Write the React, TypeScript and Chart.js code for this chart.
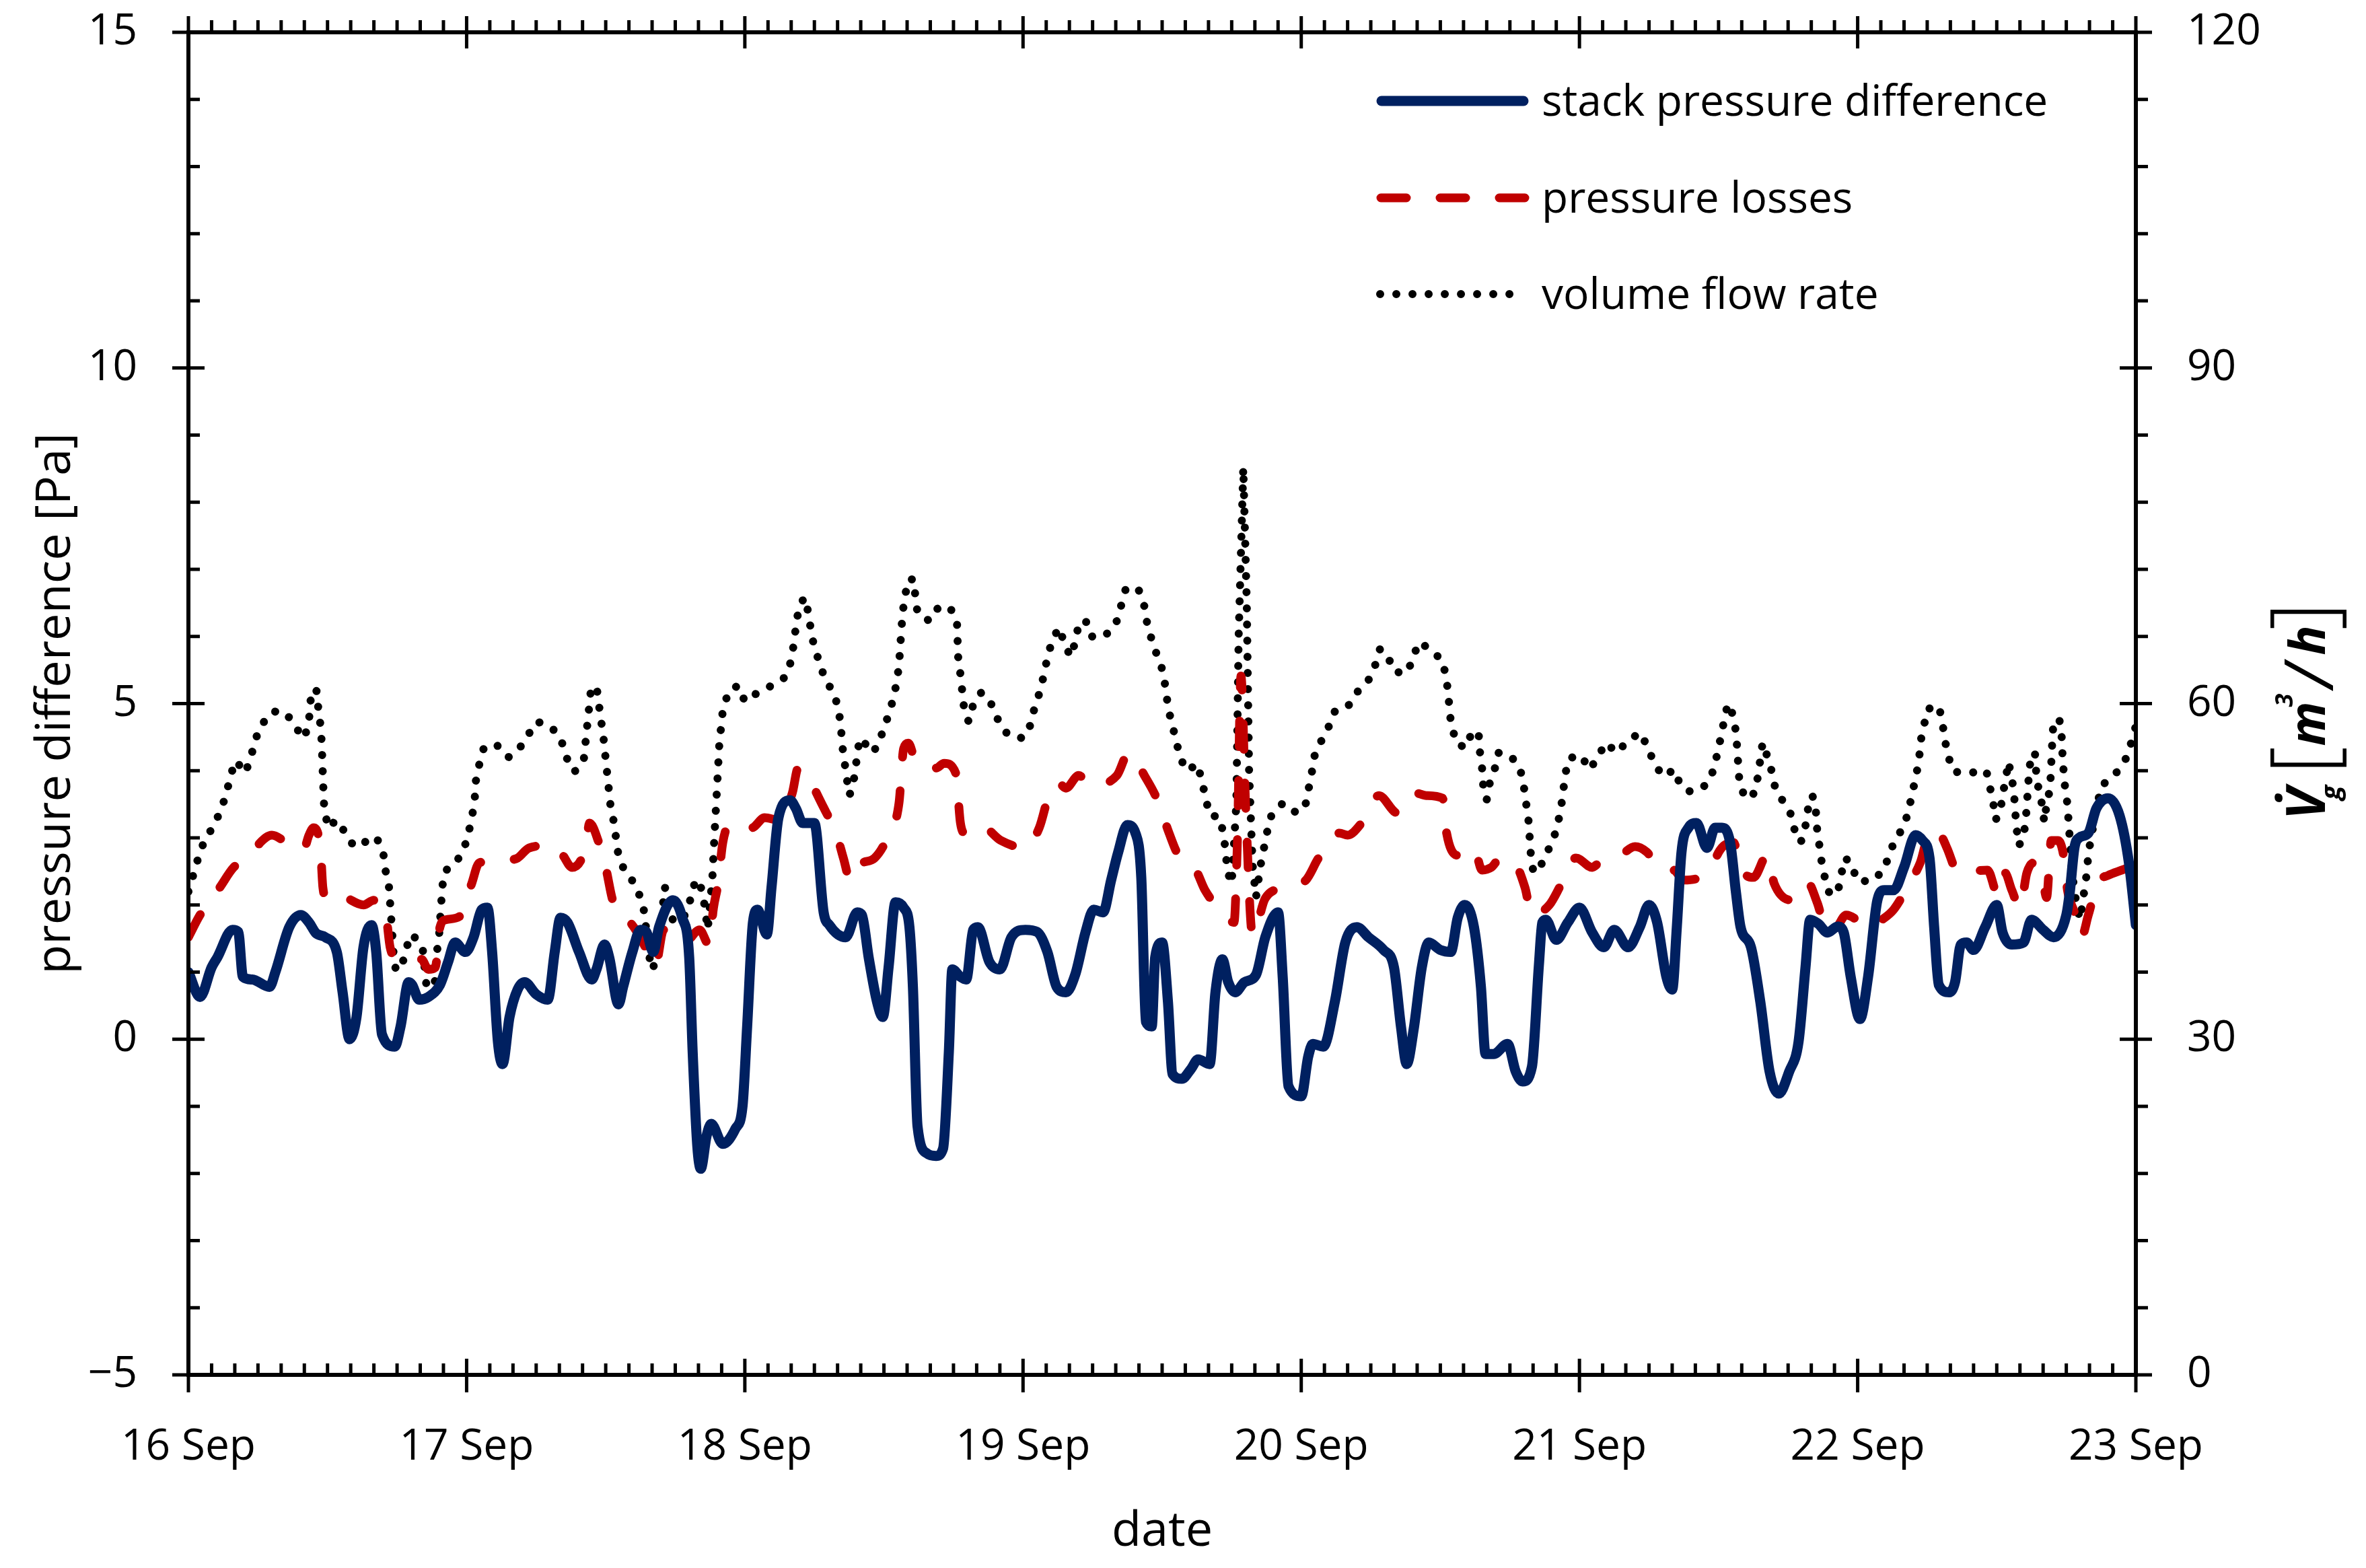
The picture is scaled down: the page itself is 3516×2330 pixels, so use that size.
import React, { useEffect, useRef } from 'react';
import { Chart, registerables } from 'chart.js';

Chart.register(...registerables);

// ---------- data ----------
const dayLabels = ['16 Sep', '17 Sep', '18 Sep', '19 Sep', '20 Sep', '21 Sep', '22 Sep', '23 Sep'];
const seriesNames = ['stack pressure difference', 'pressure losses', 'volume flow rate'];
const xTitle = 'date';
const yTitle = 'pressure difference [Pa]';
const y2TitleParts = { symbol: 'V\u0307', sub: 'g', open: '[', unit: 'm', power: '3', slash: '/', unit2: 'h', close: ']' };

// [hours since 16 Sep 00:00, Pa]
const stackPressure: [number, number][] = [
  [0,1.0],[1,0.63],[2,1.07],[2.5,1.22],[3.8,1.63],[4.3,1.6],[4.7,0.93],[5.5,0.89],[7,0.78],[7.5,1.0],[8.7,1.67],[9.7,1.85],[10.4,1.74],[11,1.58],[11.8,1.52],[12.8,1.3],[13.3,0.7],[13.9,0.0],[14.5,0.33],[15.1,1.37],[15.8,1.7],[16.2,1.3],[16.7,0.07],[17.8,-0.11],[18.3,0.19],[19,0.85],[19.3,0.81],[19.9,0.59],[20.7,0.63],[21.7,0.81],[22.4,1.15],[23,1.44],[23.9,1.3],
  [24.6,1.52],[25.3,1.93],[25.8,1.96],[26.2,1.3],[26.7,-0.04],[27.1,-0.37],[27.7,0.33],[28.4,0.74],[29,0.85],[30,0.67],[31,0.59],[31.6,1.3],[32.1,1.81],[32.7,1.74],[33.7,1.3],[34.8,0.89],[35.2,1.04],[35.9,1.41],[36.3,1.22],[37.1,0.52],[37.5,0.78],[38.3,1.3],[39,1.63],[39.5,1.6],[40.1,1.3],[40.6,1.67],[41.8,2.07],[42.6,1.81],[43.2,1.22],[43.5,-0.19],[43.9,-1.59],[44.2,-1.93],[44.7,-1.44],[45.1,-1.26],[46.1,-1.56],[47.2,-1.33],[47.8,-1.0],
  [48.2,0.19],[48.7,1.74],[49.1,1.93],[49.9,1.56],[50.3,2.26],[50.9,3.3],[51.9,3.56],[52.4,3.44],[53,3.22],[54,3.22],[54.8,1.89],[55.3,1.7],[56.7,1.52],[57.7,1.89],[58.1,1.85],[58.7,1.2],[59.4,0.56],[59.9,0.33],[60.4,1.07],[61,2.04],[61.7,1.96],[62.2,1.67],[62.5,0.78],[62.9,-1.3],[63.7,-1.7],[64.5,-1.74],[65.1,-1.63],[65.6,-0.19],[65.9,1.04],[66.6,0.93],[67.1,0.89],[67.7,1.63],[68.1,1.67],[69.1,1.15],[70,1.04],[71,1.52],
  [72.2,1.63],[73.2,1.6],[74.1,1.3],[74.9,0.78],[75.7,0.7],[76.5,0.96],[77.4,1.6],[78.1,1.93],[78.9,1.89],[79.6,2.37],[80.2,2.78],[81,3.19],[81.7,3.07],[82.2,2.41],[82.6,0.26],[83.1,0.19],[83.4,1.22],[84,1.44],[84.5,0.56],[84.9,-0.52],[85.7,-0.59],[86.5,-0.44],[87.1,-0.3],[88.1,-0.37],[88.6,0.7],[89.2,1.19],[89.7,0.85],[90.3,0.7],[91.1,0.85],[92.1,0.96],[92.9,1.52],[94,1.89],[94.4,0.93],[94.9,-0.7],
  [96,-0.85],[96.6,-0.26],[97,-0.07],[97.9,-0.11],[98.9,0.56],[99.8,1.44],[100.8,1.67],[101.8,1.52],[103.1,1.33],[104,1.07],[104.6,0.19],[105.1,-0.37],[105.7,0.15],[106.4,1.07],[107,1.44],[108,1.33],[108.9,1.3],[109.5,1.81],[110.1,2.0],[110.9,1.67],[111.5,0.78],[111.9,-0.22],[112.6,-0.22],[113.8,-0.07],[114.5,-0.48],[115.1,-0.63],[115.9,-0.41],[116.5,1.1],[116.8,1.74],[117.1,1.78],[118,1.48],[119,1.74],
  [120,1.96],[121.1,1.59],[122.1,1.37],[123,1.63],[124.2,1.37],[125.2,1.67],[126,2.0],[126.7,1.74],[127.5,0.93],[128,0.74],[128.4,1.67],[128.8,2.78],[129.4,3.15],[130.1,3.22],[131,2.85],[131.7,3.15],[132.3,3.15],[133,2.93],[133.5,2.19],[133.9,1.67],[134.8,1.37],[135.6,0.56],[136.4,-0.48],[137.2,-0.81],[138.1,-0.48],[138.9,-0.04],[139.5,1.07],[139.9,1.78],[140.6,1.72],[141.4,1.59],[142.3,1.68],[142.8,1.59],[143.4,0.93],
  [144.2,0.3],[144.9,0.93],[145.7,2.07],[146.3,2.22],[147.1,2.22],[148,2.56],[149,3.04],[149.6,2.96],[150.2,2.7],[150.6,1.67],[151,0.81],[151.9,0.7],[152.4,0.85],[152.9,1.41],[153.4,1.44],[154,1.33],[155,1.67],[156,2.0],[156.5,1.59],[157.3,1.41],[158.3,1.44],[159,1.78],[160,1.63],[160.9,1.52],[162,1.85],[162.3,2.19],[162.7,2.85],[163.1,3.0],[163.9,3.07],[164.6,3.44],[165.6,3.59],[166.6,3.33],[167.4,2.63],[168,1.7]
];

// [hours, Pa]
const pressureLosses: [number, number][] = [
  [0,1.52],[1,1.85],[2.7,2.26],[3.9,2.56],[5.4,2.74],[6.2,2.93],[7.2,3.04],[8.3,2.95],[9.3,2.85],[9.9,2.81],[10.4,3.04],[10.8,3.15],[11.4,2.81],[11.6,2.26],[12,2.07],[13.1,2.13],[15.1,2.0],[16,2.07],[17,1.89],[17.4,1.37],[18,1.19],[18.8,1.19],[20.1,1.19],[20.7,1.04],[21.3,1.07],[21.7,1.67],[22.2,1.78],[23.4,1.83],
  [24.4,2.3],[25.1,2.63],[27.5,2.67],[28.4,2.7],[29.4,2.85],[31.5,2.89],[32.3,2.74],[33.1,2.56],[34.3,2.89],[34.6,3.22],[35.4,2.93],[36,2.56],[36.6,2.07],[37.4,1.81],[38.1,1.74],[39.3,1.41],[40.1,1.11],[40.3,1.11],[41,1.63],[42,1.48],[42.8,1.44],[44.1,1.63],[44.9,1.41],[45.3,1.96],[45.7,2.33],[46.1,2.93],[46.8,3.22],
  [48.6,3.15],[49.7,3.3],[51,3.26],[52.1,3.67],[52.6,4.04],[53.6,3.85],[54.6,3.52],[56,3.0],[56.5,2.7],[57.1,2.37],[57.9,2.6],[59.2,2.7],[60.4,3.04],[61.3,3.52],[61.7,4.33],[62.1,4.41],[62.8,4.11],[64.5,4.04],[65.2,4.11],[66.2,3.96],[66.6,3.22],[67,3.07],[68.3,3.19],[70.1,2.96],
  [72.2,2.85],[73.4,3.15],[74.3,3.67],[75.1,3.81],[75.7,3.74],[76.8,3.93],[77.8,3.78],[80.1,3.93],[81.1,4.26],[82.6,3.89],[83.6,3.56],[84.6,3.07],[85.4,2.74],[86.9,2.52],[87.7,2.22],[89.4,1.85],[90.2,1.74],[90.5,3.0],[90.8,5.41],[91.2,3.5],[91.8,1.55],[92.9,2.1],[94.6,2.26],
  [96.4,2.37],[97.5,2.7],[99.3,3.07],[100,3.04],[101.2,3.22],[102.7,3.63],[104.3,3.37],[105.8,3.67],[106.8,3.63],[108.2,3.59],[108.5,3.11],[109.5,2.74],[110.9,2.85],[111.6,2.52],[112.4,2.56],[113.2,2.7],[114.4,2.63],[115.3,2.26],[115.9,1.85],[117.4,2.0],[118.4,2.3],[119.7,2.7],
  [121.1,2.56],[121.7,2.63],[123.4,2.72],[124.8,2.87],[125.8,2.79],[127.1,2.52],[128.1,2.52],[129,2.37],[131.2,2.52],[132.1,2.81],[132.5,2.89],[133.3,2.93],[133.9,2.56],[135,2.41],[136.2,2.74],[136.8,2.32],[138.5,2.07],[139.7,2.33],[140.5,2.04],[141.4,1.59],[142.2,1.67],[143,1.85],
  [145.1,1.67],[146.1,1.78],[147.1,1.93],[148.4,2.3],[149.4,2.63],[150.3,3.11],[151.3,3.0],[151.7,2.85],[152.7,2.48],[155.2,2.52],[156.1,2.15],[156.7,2.48],[157.3,2.22],[158,1.96],[158.6,2.48],[159.2,2.63],[160,2.33],[160.3,2.11],[160.7,2.96],[161.3,2.96],[161.8,2.7],[162.1,2.22],[162.7,1.89],[163.3,1.52],[163.9,1.85],[164.7,2.33],[165.6,2.44],[166.8,2.52],[168,2.6]
];

// [hours, m3/h]
const volumeFlow: [number, number][] = [
  [0,43.2],[0.9,46.4],[1.4,47.8],[2.2,49.1],[2.8,50.5],[3.3,52.0],[3.6,53.5],[4.1,54.9],[4.9,53.8],[5.4,55.2],[5.7,56.6],[6.3,58.1],[7.3,59.3],[8.4,59.2],[9.3,57.8],[10,56.9],[10.4,58.4],[10.5,60.0],[10.7,61.3],[11.1,61.1],[11.2,59.6],[11.4,58.0],[11.5,56.5],[11.6,53.5],[11.7,51.0],[11.8,50.5],[12,48.9],[12.8,49.6],[13.5,48.5],[14.3,47.2],[15.4,47.7],[16.2,48.1],[16.8,46.7],[17,45.1],[17.3,43.6],[17.5,40.7],[17.7,37.6],[17.9,36.1],[18.5,36.9],[18.8,38.2],[19.3,39.4],[20.2,38.2],[20.5,35.1],[20.7,33.8],[21.2,34.2],[21.4,37.6],[21.6,38.9],[21.9,43.6],[22.1,45.0],[23.1,45.8],[23.8,47.1],
  [24.2,48.6],[24.5,50.1],[24.7,51.5],[24.8,53.1],[25.1,54.6],[25.5,56.1],[26.6,56.3],[27.6,55.2],[28.5,55.9],[29.3,57.2],[30.1,58.4],[31.4,57.8],[32.2,56.6],[32.6,55.2],[33.3,53.9],[34.1,54.9],[34.4,58.0],[34.7,61.0],[35.2,61.6],[35.4,60.0],[35.8,57.0],[36.1,54.0],[36.4,51.0],[36.7,49.4],[37.1,46.4],[37.6,45.1],[38.5,43.9],[39.1,42.4],[39.4,41.0],[39.6,37.9],[40.1,36.2],[40.4,39.1],[40.8,40.7],[41.1,43.6],[41.8,40.6],[42.6,40.6],[43.2,42.0],[43.5,43.6],[44,44.3],[44.4,42.9],[44.8,39.8],[45.2,44.4],[45.4,48.6],[45.6,52.4],[45.8,56.4],[46.1,59.4],[46.6,61.1],[47.4,61.6],
  [48,60.2],[49,60.9],[50.3,61.6],[51.4,62.3],[52,63.8],[52.2,65.2],[52.4,66.8],[52.6,68.2],[53.1,69.5],[53.5,68.1],[53.7,66.5],[54,65.0],[54.5,63.5],[54.9,62.2],[55.7,60.9],[56.1,59.4],[56.3,57.8],[56.4,56.3],[56.6,54.8],[56.8,53.3],[57,51.8],[57.3,52.4],[57.5,53.9],[57.7,55.4],[57.9,56.9],[58.4,56.4],[58.9,55.6],[59.4,56.1],[59.9,57.5],[60.4,59.0],[60.8,60.4],[61.1,61.9],[61.3,63.4],[61.4,65.0],[61.5,66.5],[61.6,68.0],[61.8,69.5],[62.1,71.1],[62.6,71.1],[62.7,69.6],[62.9,68.1],[63.9,67.4],[64.7,68.6],[65.7,68.6],[66.3,67.3],[66.4,64.2],[66.6,62.6],[66.9,59.7],[67.3,58.4],[67.7,59.9],[68.4,61.0],[69.3,59.9],[69.9,58.4],[70.7,57.2],
  [72,56.9],[72.7,58.2],[73,59.7],[73.5,61.2],[73.8,62.6],[74.1,64.1],[74.5,65.6],[75.1,66.8],[75.6,65.3],[76.1,64.2],[76.6,65.8],[76.8,67.3],[77.5,67.3],[78,65.9],[79.4,66.3],[80.1,67.4],[80.5,68.9],[80.9,70.4],[82,70.1],[82.5,68.6],[82.7,67.2],[83.1,65.7],[83.6,64.2],[84.1,62.8],[84.3,61.3],[84.5,59.8],[84.8,58.3],[85.2,56.8],[85.5,55.3],[86.1,54.0],[87.1,54.6],[87.4,53.0],[87.8,51.6],[88,50.1],[89,49.8],[89.3,48.2],[89.5,46.7],[89.6,45.1],[90,43.9],[90.4,51.0],[90.6,66.0],[91,81.1],[91.3,69.0],[91.5,54.0],[91.8,45.6],[92.1,42.7],[92.5,45.6],[93.3,49.8],[94.4,51.1],[95.5,50.3],
  [96.3,50.6],[96.6,52.2],[96.9,53.7],[97.05,55.1],[97.7,56.6],[98.4,58.0],[98.9,59.3],[100,59.7],[100.8,61.0],[101.8,62.1],[102.4,63.5],[102.8,64.9],[103.5,64.1],[104.1,62.8],[105.2,62.8],[105.6,64.1],[106.2,65.5],[107.3,64.7],[108.2,63.8],[108.5,62.3],[108.7,60.8],[108.8,59.2],[109,57.8],[109.5,56.3],[110.3,56.1],[110.7,57.5],[111.3,57.4],[111.4,55.8],[111.6,54.2],[111.7,52.7],[112,51.4],[112.2,52.7],[112.7,54.2],[113,55.6],[114.1,55.3],[114.9,54.1],[115.2,52.6],[115.4,51.1],[115.6,49.6],[115.7,48.1],[115.8,46.6],[116,45.1],[116.4,44.9],[117,46.3],[117.7,47.7],[118.1,49.1],[118.4,50.6],[118.6,52.2],[118.8,53.8],[119.1,55.1],
  [120.1,55.4],[120.9,54.1],[121.6,55.3],[122.3,56.5],[123.2,55.6],[124.3,56.8],[125.3,57.4],[125.9,56.0],[126.5,54.6],[127.2,53.5],[128.2,54.1],[128.7,52.7],[129.6,52.1],[130.9,52.7],[131.6,54.1],[131.9,55.6],[132.2,57.0],[132.5,58.6],[132.8,60.0],[133.2,59.1],[133.5,57.5],[133.6,56.1],[133.7,54.5],[133.8,53.0],[134.3,51.5],[135.1,52.0],[135.4,53.5],[135.6,55.0],[135.8,56.5],[136.2,55.3],[136.6,53.9],[136.9,52.4],[137.6,51.2],[138.3,50.0],[138.6,48.5],[139.1,47.6],[139.5,49.1],[139.7,50.5],[140.1,51.8],[140.4,50.3],[140.5,48.8],[140.7,47.3],[140.9,45.8],[141.2,44.3],[141.6,42.9],[142.3,43.2],[142.6,44.8],[142.9,46.2],[143.5,45.7],[143.9,44.2],
  [145.1,44.1],[146.2,45.0],[146.7,46.4],[147.2,47.8],[148,49.0],[148.4,50.5],[148.7,51.9],[149,53.4],[149.3,54.9],[149.4,56.5],[149.7,57.9],[150,59.5],[151,59.8],[151.3,58.4],[151.5,56.9],[151.8,55.3],[152.3,53.9],[153.6,53.8],[155.1,54.0],[155.4,52.6],[155.7,51.1],[155.9,49.6],[156.3,50.3],[156.5,51.8],[156.8,53.4],[157,54.8],[157.3,53.4],[157.5,51.8],[157.6,50.3],[157.7,48.9],[157.9,47.3],[158.3,48.0],[158.5,49.6],[158.6,51.0],[158.7,52.6],[158.8,54.0],[159,55.6],[159.3,55.5],[159.4,53.9],[159.6,52.4],[159.9,51.0],[160.1,49.4],[160.3,51.0],[160.6,52.4],[160.7,54.6],[160.8,56.9],[160.9,58.4],[161.4,58.6],[161.6,57.0],[161.7,54.8],[161.9,52.4],[162.1,51.0],[162.2,49.4],[162.3,47.9],[162.4,46.4],[162.5,44.9],[162.7,43.3],[162.9,41.9],[163.2,40.7],[163.4,42.2],[163.6,43.6],[163.8,45.1],[163.9,46.7],[164.2,48.2],[164.4,49.8],[164.7,51.2],[165.1,52.7],[166.3,53.8],[167.1,55.0],[167.6,56.5],[168,58.0]
];

// ---------- styling ----------
const FONT = "'Open Sans', 'Noto Sans', sans-serif";
const CANVAS_W = 3500;
const CANVAS_H = 2314;
const toXY = (arr: [number, number][]) => arr.map(([x, y]) => ({ x, y }));

const framePlugin = {
  id: 'frameAndTicks',
  afterDatasetsDraw(chart: any) {
    const { ctx, chartArea } = chart;
    const { left, right, top, bottom } = chartArea;
    const xs = chart.scales.x, ys = chart.scales.y, y2 = chart.scales.y2;
    ctx.save();
    ctx.strokeStyle = '#000';
    ctx.lineCap = 'butt';
    ctx.setLineDash([]);
    const line = (a: number, b: number, c: number, d: number) => {
      ctx.beginPath(); ctx.moveTo(a, b); ctx.lineTo(c, d); ctx.stroke();
    };
    ctx.lineWidth = 5;
    for (let h = xs.min; h <= xs.max; h += 2) {
      const px = xs.getPixelForValue(h);
      if (h % 24 === 0) {
        line(px, bottom - 24, px, bottom + 26);
        line(px, top - 24, px, top + 24);
      } else {
        line(px, bottom - 17, px, bottom);
        line(px, top - 18, px, top);
      }
    }
    for (let v = ys.min; v <= ys.max; v += 1) {
      const py = ys.getPixelForValue(v);
      if (v % 5 === 0) line(left - 24, py, left + 24, py);
      else line(left, py, left + 17, py);
    }
    for (let v = y2.min; v <= y2.max; v += 6) {
      const py = y2.getPixelForValue(v);
      if (v % 30 === 0) line(right - 24, py, right + 24, py);
      else line(right, py, right + 18, py);
    }
    ctx.lineWidth = 6;
    ctx.strokeRect(left, top, right - left, bottom - top);
    ctx.restore();
  },
};

const legendPlugin = {
  id: 'insideLegend',
  afterDraw(chart: any) {
    const { ctx, chartArea } = chart;
    const { right, top } = chartArea;
    const rows = [102, 246, 389];
    ctx.save();
    chart.data.datasets.forEach((ds: any, i: number) => {
      const y = top + rows[i];
      ctx.strokeStyle = ds.borderColor;
      ctx.lineWidth = ds.borderWidth;
      ctx.lineCap = ds.borderCapStyle || 'butt';
      ctx.setLineDash(ds.borderDash || []);
      ctx.beginPath();
      if (i === 0) { ctx.moveTo(right - 1121, y); ctx.lineTo(right - 910, y); }
      else if (i === 1) { ctx.moveTo(right - 1122, y); ctx.lineTo(right - 900, y); }
      else { ctx.moveTo(right - 1123, y); ctx.lineTo(right - 912, y); }
      ctx.stroke();
      ctx.setLineDash([]);
      ctx.fillStyle = '#000';
      ctx.font = `64px ${FONT}`;
      ctx.textAlign = 'left';
      ctx.textBaseline = 'alphabetic';
      ctx.fillText(ds.label, right - 883, y + 22);
    });
    ctx.restore();
  },
};

const rightTitlePlugin = {
  id: 'rightTitle',
  afterDraw(chart: any) {
    const { ctx, chartArea } = chart;
    const p = y2TitleParts;
    const cx = chartArea.right + 281;
    const cy = (chartArea.top + chartArea.bottom) / 2 + 173;
    ctx.save();
    ctx.translate(cx, cy);
    ctx.rotate(-Math.PI / 2);
    ctx.fillStyle = '#000';
    ctx.textAlign = 'left';
    ctx.textBaseline = 'alphabetic';
    ctx.font = `italic bold 80px ${FONT}`;
    ctx.fillText(p.symbol, 0, 0);
    ctx.font = `italic bold 40px ${FONT}`;
    ctx.fillText(p.sub, 30, 22);
    ctx.font = `300 130px ${FONT}`;
    ctx.fillText(p.open, 68, 12);
    ctx.font = `italic bold 73px ${FONT}`;
    ctx.fillText(p.unit, 110, 0);
    ctx.font = `italic bold 36px ${FONT}`;
    ctx.fillText(p.power, 168, -48);
    ctx.font = `italic 100px ${FONT}`;
    ctx.fillText(p.slash, 196, 12);
    ctx.font = `italic bold 73px ${FONT}`;
    ctx.fillText(p.unit2, 245, 0);
    ctx.font = `300 130px ${FONT}`;
    ctx.fillText(p.close, 282, 12);
    ctx.restore();
  },
};

export default function App() {
  const ref = useRef<HTMLCanvasElement | null>(null);
  useEffect(() => {
    if (!ref.current) return;
    const tickFont = { family: FONT, size: 64 };
    const titleFont = { family: FONT, size: 72 };
    const chart = new Chart(ref.current, {
      type: 'line',
      data: {
        datasets: [
          {
            label: seriesNames[0],
            data: toXY(stackPressure),
            yAxisID: 'y',
            borderColor: '#002060',
            borderWidth: 15,
            borderCapStyle: 'round',
            borderJoinStyle: 'round',
            cubicInterpolationMode: 'monotone',
            pointRadius: 0,
            fill: false,
          },
          {
            label: seriesNames[1],
            data: toXY(pressureLosses),
            yAxisID: 'y',
            borderColor: '#C00000',
            borderWidth: 13,
            borderDash: [38, 50],
            borderCapStyle: 'round',
            borderJoinStyle: 'round',
            cubicInterpolationMode: 'monotone',
            pointRadius: 0,
            fill: false,
          },
          {
            label: seriesNames[2],
            data: toXY(volumeFlow),
            yAxisID: 'y2',
            borderColor: '#000000',
            borderWidth: 12,
            borderDash: [0.01, 24],
            borderCapStyle: 'round',
            borderJoinStyle: 'round',
            tension: 0,
            pointRadius: 0,
            fill: false,
          },
        ],
      } as any,
      options: {
        responsive: false,
        devicePixelRatio: 1,
        animation: false,
        events: [],
        layout: { padding: { top: 40, left: 0, right: 0, bottom: 0 } },
        plugins: { legend: { display: false }, tooltip: { enabled: false }, title: { display: false } },
        scales: {
          x: {
            type: 'linear',
            position: 'bottom',
            min: 0,
            max: 168,
            grid: { display: false, drawTicks: true, tickLength: 69 },
            border: { display: false },
            ticks: {
              stepSize: 24,
              autoSkip: false,
              maxRotation: 0,
              padding: 0,
              color: '#000',
              font: tickFont,
              callback: (v: any) => dayLabels[Math.round(Number(v) / 24)] ?? '',
            },
            title: { display: true, text: xTitle, color: '#000', font: titleFont, padding: { top: 0, bottom: 2 } },
            afterFit: (s: any) => { s.height = CANVAS_H - 2035; },
          },
          y: {
            type: 'linear',
            position: 'left',
            min: -5,
            max: 15,
            grid: { display: false, drawTicks: true, tickLength: 76 },
            border: { display: false },
            ticks: {
              stepSize: 5,
              padding: 0,
              color: '#000',
              font: tickFont,
              callback: (v: any) => (Number(v) < 0 ? '\u2212' + Math.abs(Number(v)) : String(v)),
            },
            title: { display: true, text: yTitle, color: '#000', font: titleFont, padding: { top: 32, bottom: 0 } },
            afterFit: (s: any) => { s.width = 272; },
          },
          y2: {
            type: 'linear',
            position: 'right',
            min: 0,
            max: 120,
            grid: { display: false, drawTicks: true, tickLength: 76 },
            border: { display: false },
            ticks: { stepSize: 30, padding: 0, color: '#000', font: tickFont },
            afterFit: (s: any) => { s.width = 334; },
          },
        },
      } as any,
      plugins: [framePlugin, legendPlugin, rightTitlePlugin],
    });
    return () => chart.destroy();
  }, []);
  return (
    <canvas
      ref={ref}
      width={CANVAS_W}
      height={CANVAS_H}
      style={{ display: 'block', width: CANVAS_W + 'px', height: CANVAS_H + 'px' }}
    />
  );
}
